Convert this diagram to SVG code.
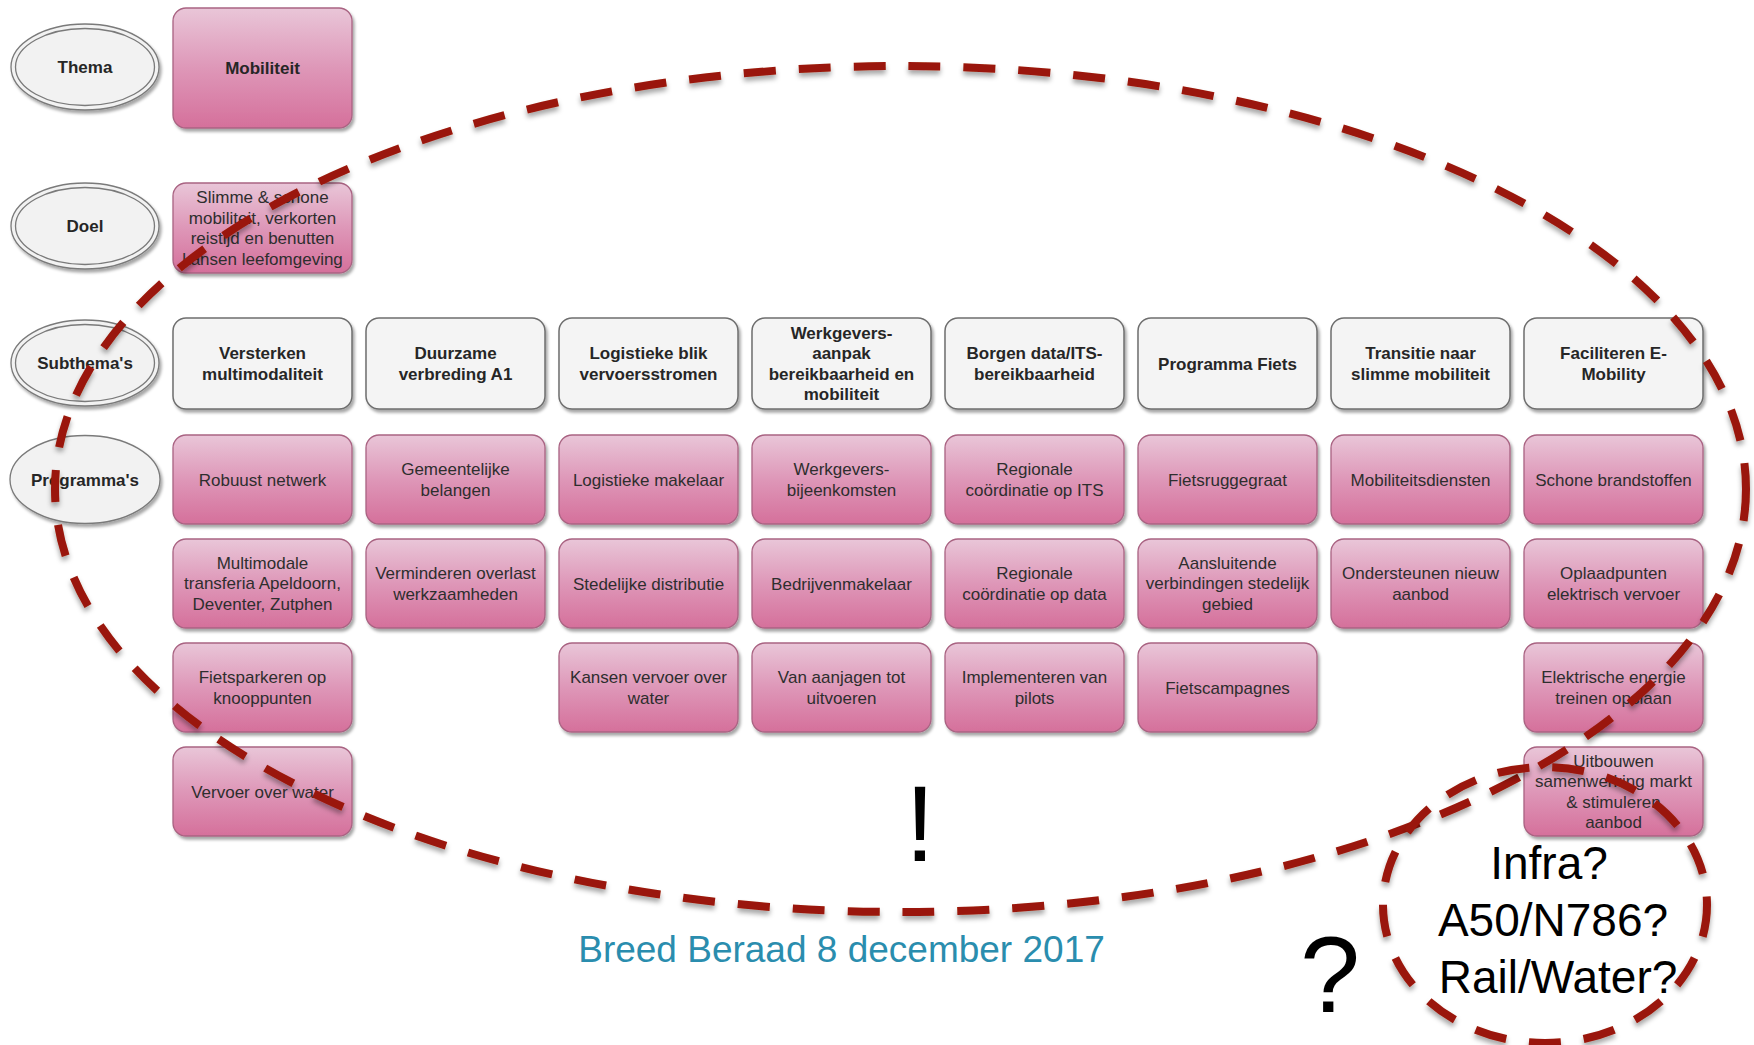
<svg xmlns="http://www.w3.org/2000/svg" width="1754" height="1045" viewBox="0 0 1754 1045">
<defs>
<linearGradient id="pink" x1="0" y1="0" x2="0" y2="1">
<stop offset="0" stop-color="#E9C6D8"/>
<stop offset="0.5" stop-color="#DE97B8"/>
<stop offset="1" stop-color="#D5709B"/>
</linearGradient>
<filter id="sh" x="-10%" y="-10%" width="130%" height="130%">
<feDropShadow dx="2" dy="3" stdDeviation="1.5" flood-color="#000" flood-opacity="0.35"/>
</filter>
<filter id="dsh" x="-5%" y="-5%" width="110%" height="115%">
<feDropShadow dx="0" dy="4" stdDeviation="2.5" flood-color="#000" flood-opacity="0.35"/>
</filter>
<style>
.pk{fill:url(#pink);stroke:#A96382;stroke-width:1.3;filter:url(#sh)}
.gr{fill:#F4F4F4;stroke:#6E6E6E;stroke-width:1.5;filter:url(#sh)}
.lb{fill:#F2F2F2;stroke:#7A7A7A;stroke-width:1.3}
.lbo{fill:#F2F2F2;stroke:#7A7A7A;stroke-width:1.3;filter:url(#sh)}
.t{font-family:"Liberation Sans",Arial,sans-serif;font-size:17px;fill:#2E2E2E;text-anchor:middle}
.b{font-family:"Liberation Sans",Arial,sans-serif;font-size:17px;font-weight:bold;fill:#262626;text-anchor:middle}
.red{fill:none;stroke:#9A1708;stroke-width:8;stroke-dasharray:32 23;filter:url(#dsh)}
.big{font-family:"Liberation Sans",Arial,sans-serif;fill:#000;text-anchor:middle}
</style>
</defs>
<rect width="1754" height="1045" fill="#fff"/>

<g id="label-thema"><ellipse class="lbo" cx="85" cy="67" rx="74" ry="43"/><ellipse class="lb" cx="85" cy="67" rx="69.5" ry="38.5"/><text class="b" x="85" y="73">Thema</text></g>
<g id="label-doel"><ellipse class="lbo" cx="85" cy="226" rx="74" ry="43"/><ellipse class="lb" cx="85" cy="226" rx="69.5" ry="38.5"/><text class="b" x="85" y="232">Doel</text></g>
<g id="label-subthemas"><ellipse class="lbo" cx="85" cy="363" rx="74" ry="43"/><ellipse class="lb" cx="85" cy="363" rx="69.5" ry="38.5"/><text class="b" x="85" y="369">Subthema's</text></g>
<g id="label-programmas"><ellipse class="lbo" cx="85" cy="479.5" rx="75" ry="44"/><text class="b" x="85" y="485.5">Programma's</text></g>

<g id="mobiliteit"><rect class="pk" x="173" y="8" width="179" height="120" rx="13"/><text class="b" x="262.5" y="74">Mobiliteit</text></g>
<g id="doel"><rect class="pk" x="173" y="183" width="179" height="90" rx="13"/><text class="t"><tspan x="262.5" y="203">Slimme &amp; schone</tspan><tspan x="262.5" y="223.5">mobiliteit, verkorten</tspan><tspan x="262.5" y="244">reistijd en benutten</tspan><tspan x="262.5" y="264.5">kansen leefomgeving</tspan></text></g>

<g id="sub-1"><rect class="gr" x="173" y="318" width="179" height="91" rx="13"/><text class="b"><tspan x="262.5" y="359">Versterken</tspan><tspan x="262.5" y="380">multimodaliteit</tspan></text></g>
<g id="sub-2"><rect class="gr" x="366" y="318" width="179" height="91" rx="13"/><text class="b"><tspan x="455.5" y="359">Duurzame</tspan><tspan x="455.5" y="380">verbreding A1</tspan></text></g>
<g id="sub-3"><rect class="gr" x="559" y="318" width="179" height="91" rx="13"/><text class="b"><tspan x="648.5" y="359">Logistieke blik</tspan><tspan x="648.5" y="380">vervoersstromen</tspan></text></g>
<g id="sub-4"><rect class="gr" x="752" y="318" width="179" height="91" rx="13"/><text class="b"><tspan x="841.5" y="338.5">Werkgevers-</tspan><tspan x="841.5" y="359">aanpak</tspan><tspan x="841.5" y="379.5">bereikbaarheid en</tspan><tspan x="841.5" y="400">mobiliteit</tspan></text></g>
<g id="sub-5"><rect class="gr" x="945" y="318" width="179" height="91" rx="13"/><text class="b"><tspan x="1034.5" y="359">Borgen data/ITS-</tspan><tspan x="1034.5" y="380">bereikbaarheid</tspan></text></g>
<g id="sub-6"><rect class="gr" x="1138" y="318" width="179" height="91" rx="13"/><text class="b" x="1227.5" y="369.5">Programma Fiets</text></g>
<g id="sub-7"><rect class="gr" x="1331" y="318" width="179" height="91" rx="13"/><text class="b"><tspan x="1420.5" y="359">Transitie naar</tspan><tspan x="1420.5" y="380">slimme mobiliteit</tspan></text></g>
<g id="sub-8"><rect class="gr" x="1524" y="318" width="179" height="91" rx="13"/><text class="b"><tspan x="1613.5" y="359">Faciliteren E-</tspan><tspan x="1613.5" y="380">Mobility</tspan></text></g>

<g id="p1-1"><rect class="pk" x="173" y="435" width="179" height="89" rx="13"/><text class="t" x="262.5" y="485.5">Robuust netwerk</text></g>
<g id="p1-2"><rect class="pk" x="366" y="435" width="179" height="89" rx="13"/><text class="t"><tspan x="455.5" y="475">Gemeentelijke</tspan><tspan x="455.5" y="496">belangen</tspan></text></g>
<g id="p1-3"><rect class="pk" x="559" y="435" width="179" height="89" rx="13"/><text class="t" x="648.5" y="485.5">Logistieke makelaar</text></g>
<g id="p1-4"><rect class="pk" x="752" y="435" width="179" height="89" rx="13"/><text class="t"><tspan x="841.5" y="475">Werkgevers-</tspan><tspan x="841.5" y="496">bijeenkomsten</tspan></text></g>
<g id="p1-5"><rect class="pk" x="945" y="435" width="179" height="89" rx="13"/><text class="t"><tspan x="1034.5" y="475">Regionale</tspan><tspan x="1034.5" y="496">coördinatie op ITS</tspan></text></g>
<g id="p1-6"><rect class="pk" x="1138" y="435" width="179" height="89" rx="13"/><text class="t" x="1227.5" y="485.5">Fietsruggegraat</text></g>
<g id="p1-7"><rect class="pk" x="1331" y="435" width="179" height="89" rx="13"/><text class="t" x="1420.5" y="485.5">Mobiliteitsdiensten</text></g>
<g id="p1-8"><rect class="pk" x="1524" y="435" width="179" height="89" rx="13"/><text class="t" x="1613.5" y="485.5">Schone brandstoffen</text></g>

<g id="p2-1"><rect class="pk" x="173" y="539" width="179" height="89" rx="13"/><text class="t"><tspan x="262.5" y="568.5">Multimodale</tspan><tspan x="262.5" y="589">transferia Apeldoorn,</tspan><tspan x="262.5" y="609.5">Deventer, Zutphen</tspan></text></g>
<g id="p2-2"><rect class="pk" x="366" y="539" width="179" height="89" rx="13"/><text class="t"><tspan x="455.5" y="579">Verminderen overlast</tspan><tspan x="455.5" y="600">werkzaamheden</tspan></text></g>
<g id="p2-3"><rect class="pk" x="559" y="539" width="179" height="89" rx="13"/><text class="t" x="648.5" y="589.5">Stedelijke distributie</text></g>
<g id="p2-4"><rect class="pk" x="752" y="539" width="179" height="89" rx="13"/><text class="t" x="841.5" y="589.5">Bedrijvenmakelaar</text></g>
<g id="p2-5"><rect class="pk" x="945" y="539" width="179" height="89" rx="13"/><text class="t"><tspan x="1034.5" y="579">Regionale</tspan><tspan x="1034.5" y="600">coördinatie op data</tspan></text></g>
<g id="p2-6"><rect class="pk" x="1138" y="539" width="179" height="89" rx="13"/><text class="t"><tspan x="1227.5" y="568.5">Aansluitende</tspan><tspan x="1227.5" y="589">verbindingen stedelijk</tspan><tspan x="1227.5" y="609.5">gebied</tspan></text></g>
<g id="p2-7"><rect class="pk" x="1331" y="539" width="179" height="89" rx="13"/><text class="t"><tspan x="1420.5" y="579">Ondersteunen nieuw</tspan><tspan x="1420.5" y="600">aanbod</tspan></text></g>
<g id="p2-8"><rect class="pk" x="1524" y="539" width="179" height="89" rx="13"/><text class="t"><tspan x="1613.5" y="579">Oplaadpunten</tspan><tspan x="1613.5" y="600">elektrisch vervoer</tspan></text></g>

<g id="p3-1"><rect class="pk" x="173" y="643" width="179" height="89" rx="13"/><text class="t"><tspan x="262.5" y="683">Fietsparkeren op</tspan><tspan x="262.5" y="704">knooppunten</tspan></text></g>
<g id="p3-3"><rect class="pk" x="559" y="643" width="179" height="89" rx="13"/><text class="t"><tspan x="648.5" y="683">Kansen vervoer over</tspan><tspan x="648.5" y="704">water</tspan></text></g>
<g id="p3-4"><rect class="pk" x="752" y="643" width="179" height="89" rx="13"/><text class="t"><tspan x="841.5" y="683">Van aanjagen tot</tspan><tspan x="841.5" y="704">uitvoeren</tspan></text></g>
<g id="p3-5"><rect class="pk" x="945" y="643" width="179" height="89" rx="13"/><text class="t"><tspan x="1034.5" y="683">Implementeren van</tspan><tspan x="1034.5" y="704">pilots</tspan></text></g>
<g id="p3-6"><rect class="pk" x="1138" y="643" width="179" height="89" rx="13"/><text class="t" x="1227.5" y="693.5">Fietscampagnes</text></g>
<g id="p3-8"><rect class="pk" x="1524" y="643" width="179" height="89" rx="13"/><text class="t"><tspan x="1613.5" y="683">Elektrische energie</tspan><tspan x="1613.5" y="704">treinen opslaan</tspan></text></g>

<g id="p4-1"><rect class="pk" x="173" y="747" width="179" height="89" rx="13"/><text class="t" x="262.5" y="797.5">Vervoer over water</text></g>
<g id="p4-8"><rect class="pk" x="1524" y="747" width="179" height="89" rx="13"/><text class="t"><tspan x="1613.5" y="766.5">Uitbouwen</tspan><tspan x="1613.5" y="787">samenwerking markt</tspan><tspan x="1613.5" y="807.5">&amp; stimuleren</tspan><tspan x="1613.5" y="828">aanbod</tspan></text></g>

<g id="connectors"/>

<g id="annotations">
<ellipse class="red" cx="900.5" cy="489" rx="845.5" ry="423"/>
<ellipse class="red" cx="1545" cy="905" rx="162" ry="138"/>
<text class="big" x="920" y="861" font-size="108">!</text>
<text class="big" x="1330" y="1012" font-size="108">?</text>
<text class="big" font-size="46"><tspan x="1549" y="879">Infra?</tspan><tspan x="1553" y="936">A50/N786?</tspan><tspan x="1558" y="993">Rail/Water?</tspan></text>
<text x="841.5" y="962" font-family="'Liberation Sans',Arial,sans-serif" font-size="37" fill="#2A8DAE" text-anchor="middle">Breed Beraad 8 december 2017</text>
</g>
</svg>
